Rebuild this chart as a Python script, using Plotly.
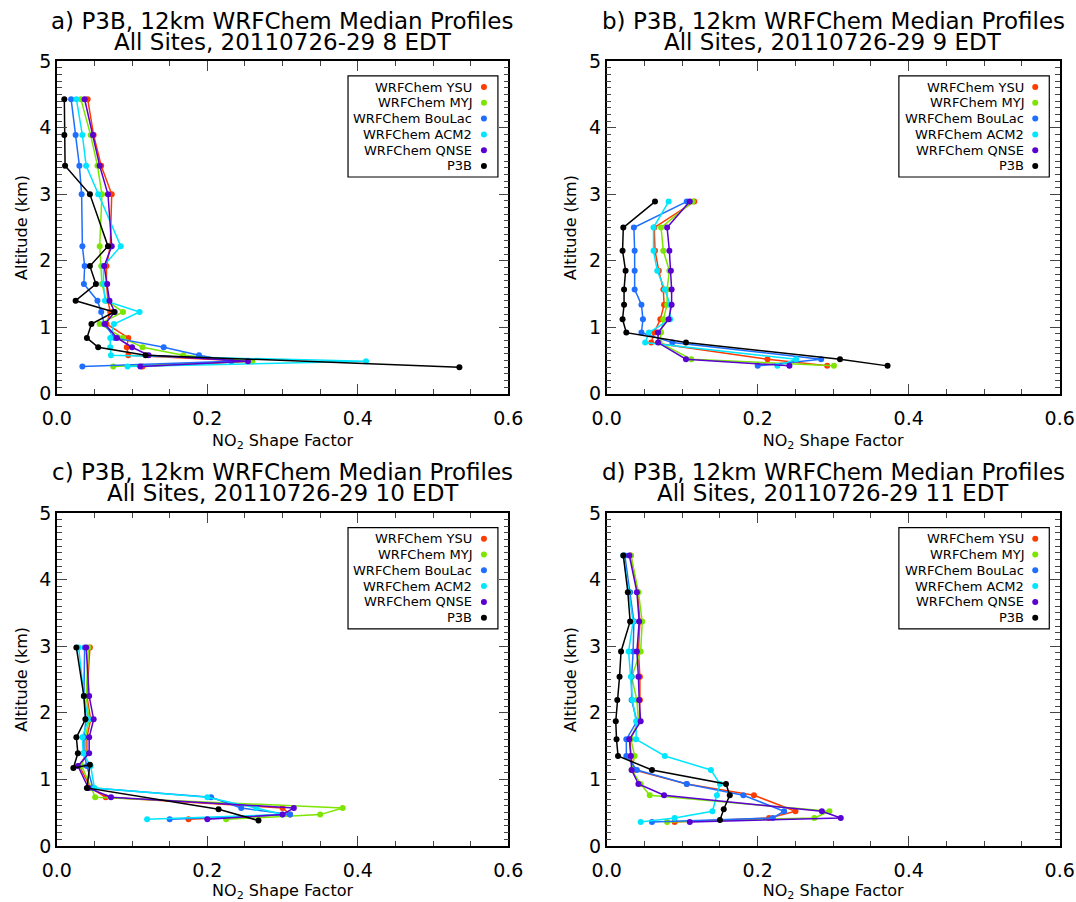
import plotly.graph_objects as go

# ---------------- data ----------------
SERIES = ["WRFChem YSU", "WRFChem MYJ", "WRFChem BouLac", "WRFChem ACM2", "WRFChem QNSE", "P3B"]
COLORS = ["#FF3C00", "#7CE600", "#1E6EFF", "#00E6FF", "#5A00D2", "#000000"]

TITLE1 = "P3B, 12km WRFChem Median Profiles"
HOURS = ["8", "9", "10", "11"]
LETTERS = ["a", "b", "c", "d"]

# Panel a (8 EDT)
a_alt = [4.43, 3.89, 3.43, 3.00, 2.22, 1.92, 1.65, 1.40, 1.23, 1.05, 0.84, 0.70, 0.58, 0.49, 0.41]
a_ysu = [0.041, 0.049, 0.059, 0.073, 0.071, 0.066, 0.066, 0.068, 0.071, 0.066, 0.095, 0.093, 0.095, 0.257, 0.114]
a_myj = [0.032, 0.045, 0.054, 0.060, 0.057, 0.059, 0.060, 0.066, 0.088, 0.057, 0.088, 0.114, 0.168, 0.260, 0.075]
a_boulac = [0.019, 0.025, 0.030, 0.033, 0.034, 0.037, 0.036, 0.054, 0.059, 0.063, 0.077, 0.142, 0.189, 0.232, 0.034]
a_acm2 = [0.026, 0.034, 0.039, 0.055, 0.085, 0.062, 0.062, 0.064, 0.110, 0.076, 0.071, 0.071, 0.072, 0.411, 0.094]
a_qnse = [0.037, 0.048, 0.057, 0.068, 0.073, 0.063, 0.067, 0.070, 0.077, 0.064, 0.080, 0.100, 0.122, 0.254, 0.111]
a_p3b_alt = [4.43, 3.89, 3.43, 3.00, 2.22, 1.92, 1.65, 1.40, 1.23, 1.05, 0.84, 0.70, 0.58, 0.40]
a_p3b = [0.010, 0.010, 0.011, 0.044, 0.068, 0.044, 0.052, 0.025, 0.076, 0.046, 0.040, 0.055, 0.118, 0.535]

# Panel b (9 EDT)
b_alt = [2.89, 2.50, 2.15, 1.85, 1.57, 1.34, 1.12, 0.92, 0.77, 0.52, 0.42]
b_ysu = [0.116, 0.063, 0.064, 0.069, 0.075, 0.076, 0.071, 0.063, 0.059, 0.213, 0.292]
b_myj = [0.114, 0.072, 0.075, 0.083, 0.080, 0.080, 0.075, 0.072, 0.070, 0.112, 0.301]
b_boulac = [0.106, 0.036, 0.037, 0.037, 0.037, 0.046, 0.048, 0.046, 0.087, 0.284, 0.200]
b_acm2 = [0.082, 0.062, 0.062, 0.067, 0.077, 0.084, 0.084, 0.056, 0.051, 0.251, 0.226]
b_qnse = [0.110, 0.080, 0.083, 0.085, 0.086, 0.086, 0.082, 0.068, 0.068, 0.105, 0.242]
b_p3b_alt = [2.89, 2.50, 2.15, 1.85, 1.57, 1.34, 1.12, 0.92, 0.77, 0.52, 0.42]
b_p3b = [0.064, 0.022, 0.021, 0.025, 0.023, 0.023, 0.021, 0.026, 0.105, 0.309, 0.372]

# Panel c (10 EDT)
c_alt = [2.98, 2.25, 1.90, 1.63, 1.39, 1.20, 0.87, 0.73, 0.57, 0.47, 0.40]
c_ysu = [0.044, 0.040, 0.045, 0.040, 0.040, 0.030, 0.045, 0.065, 0.300, 0.310, 0.175]
c_myj = [0.042, 0.039, 0.043, 0.038, 0.038, 0.033, 0.046, 0.051, 0.380, 0.350, 0.225]
c_boulac = [0.037, 0.036, 0.039, 0.036, 0.036, 0.040, 0.048, 0.205, 0.245, 0.310, 0.150]
c_acm2 = [0.029, 0.036, 0.042, 0.034, 0.035, 0.045, 0.050, 0.200, 0.265, 0.300, 0.120]
c_qnse = [0.039, 0.043, 0.049, 0.043, 0.043, 0.028, 0.042, 0.072, 0.315, 0.300, 0.200]
c_p3b_alt = [2.98, 2.25, 1.90, 1.63, 1.39, 1.17, 1.22, 0.87, 0.55, 0.38]
c_p3b = [0.026, 0.036, 0.038, 0.026, 0.028, 0.022, 0.044, 0.040, 0.215, 0.268]

# Panel d (11 EDT)
d_alt = [4.36, 3.81, 3.37, 2.92, 2.54, 2.19, 1.87, 1.60, 1.35, 1.14, 0.93, 0.76, 0.52, 0.42, 0.36]
d_ysu = [0.032, 0.041, 0.044, 0.042, 0.044, 0.044, 0.043, 0.031, 0.032, 0.036, 0.106, 0.195, 0.250, 0.215, 0.090]
d_myj = [0.032, 0.042, 0.047, 0.045, 0.033, 0.040, 0.042, 0.032, 0.037, 0.033, 0.045, 0.057, 0.295, 0.275, 0.080]
d_boulac = [0.024, 0.031, 0.036, 0.035, 0.033, 0.033, 0.040, 0.026, 0.026, 0.040, 0.106, 0.181, 0.235, 0.220, 0.060]
d_acm2 = [0.022, 0.029, 0.035, 0.029, 0.032, 0.034, 0.039, 0.039, 0.077, 0.138, 0.150, 0.146, 0.140, 0.090, 0.045]
d_qnse = [0.030, 0.040, 0.043, 0.040, 0.042, 0.043, 0.045, 0.030, 0.032, 0.033, 0.042, 0.076, 0.285, 0.310, 0.110]
d_p3b_alt = [4.36, 3.81, 3.37, 2.92, 2.54, 2.19, 1.87, 1.60, 1.35, 1.14, 0.93, 0.76, 0.55, 0.39]
d_p3b = [0.022, 0.028, 0.031, 0.019, 0.017, 0.014, 0.012, 0.013, 0.015, 0.060, 0.158, 0.163, 0.155, 0.150]

PANELS = [
    dict(models=[a_ysu, a_myj, a_boulac, a_acm2, a_qnse], alt=a_alt, p3b=a_p3b, p3b_alt=a_p3b_alt),
    dict(models=[b_ysu, b_myj, b_boulac, b_acm2, b_qnse], alt=b_alt, p3b=b_p3b, p3b_alt=b_p3b_alt),
    dict(models=[c_ysu, c_myj, c_boulac, c_acm2, c_qnse], alt=c_alt, p3b=c_p3b, p3b_alt=c_p3b_alt),
    dict(models=[d_ysu, d_myj, d_boulac, d_acm2, d_qnse], alt=d_alt, p3b=d_p3b, p3b_alt=d_p3b_alt),
]

# ---------------- layout geometry (pixels) ----------------
W, H = 1076, 902
X_LEFT = [56.8, 606.7]
X_RIGHT = [508.3, 1059.7]
Y_TOP = [61.3, 512.9]
Y_BOT = [393.8, 845.9]

FONT = "DejaVu Sans"

fig = go.Figure()
layout = dict(
    width=W, height=H, margin=dict(l=0, r=0, t=0, b=0, autoexpand=False),
    paper_bgcolor="white", plot_bgcolor="white", showlegend=False,
    font=dict(family=FONT, color="black"),
)
annotations = []
shapes = []

for i, p in enumerate(PANELS):
    col, row = i % 2, i // 2
    sfx = "" if i == 0 else str(i + 1)
    xa, ya = "x" + sfx, "y" + sfx
    xd = [X_LEFT[col] / W, X_RIGHT[col] / W]
    yd = [1 - Y_BOT[row] / H, 1 - Y_TOP[row] / H]
    layout["xaxis" + sfx] = dict(
        domain=xd, anchor=ya, range=[0, 0.6], tick0=0, dtick=0.2, tickformat=".1f",
        automargin=False,
        ticks="inside", ticklen=10, tickwidth=1.3, showline=True, linewidth=1.5, linecolor="black",
        mirror="ticks", showgrid=False, zeroline=False,
        minor=dict(dtick=0.05, tick0=0, ticks="inside", ticklen=5, tickwidth=1.2, showgrid=False),
        tickfont=dict(size=19, family=FONT), ticklabelstandoff=7,
        title=dict(text="NO<sub>2</sub> Shape Factor", font=dict(size=16, family=FONT), standoff=6),
    )
    layout["yaxis" + sfx] = dict(
        domain=yd, anchor=xa, range=[0, 5], tick0=0, dtick=1,
        automargin=False,
        ticks="inside", ticklen=10, tickwidth=1.3, showline=True, linewidth=1.5, linecolor="black",
        mirror="ticks", showgrid=False, zeroline=False,
        minor=dict(dtick=0.1, tick0=0, ticks="inside", ticklen=5, tickwidth=1.2, showgrid=False),
        tickfont=dict(size=19, family=FONT), ticklabelstandoff=0,
        title=dict(text="Altitude (km)", font=dict(size=16, family=FONT), standoff=8),
    )
    for s in range(5):
        fig.add_trace(go.Scatter(
            x=p["models"][s], y=p["alt"], mode="lines+markers", name=SERIES[s],
            line=dict(color=COLORS[s], width=1.5), marker=dict(color=COLORS[s], size=6),
            xaxis=xa, yaxis=ya))
    fig.add_trace(go.Scatter(
        x=p["p3b"], y=p["p3b_alt"], mode="lines+markers", name=SERIES[5],
        line=dict(color=COLORS[5], width=1.5), marker=dict(color=COLORS[5], size=6),
        xaxis=xa, yaxis=ya))

    # titles
    cx = (X_LEFT[col] + X_RIGHT[col]) / 2 / W
    annotations.append(dict(text=f"{LETTERS[i]}) {TITLE1}", xref="paper", yref="paper",
                            x=cx, y=1 - (Y_TOP[row] - 40.5) / H, xanchor="center", yanchor="middle",
                            showarrow=False, font=dict(size=23, family=FONT)))
    annotations.append(dict(text=f"All Sites, 20110726-29 {HOURS[i]} EDT", xref="paper", yref="paper",
                            x=cx, y=1 - (Y_TOP[row] - 19.5) / H, xanchor="center", yanchor="middle",
                            showarrow=False, font=dict(size=23, family=FONT)))

    # legend box
    xdom, ydom = xa + " domain", ya + " domain"
    shapes.append(dict(type="rect", xref=xdom, yref=ydom, x0=0.645, x1=0.977, y0=0.652, y1=0.956,
                       line=dict(color="black", width=1.2), fillcolor="white"))
    for s in range(6):
        yy = 0.9227 - s * 0.0475
        annotations.append(dict(text=SERIES[s], xref=xdom, yref=ydom, x=0.925, y=yy,
                                xanchor="right", yanchor="middle", showarrow=False,
                                font=dict(size=13, family=FONT)))
        shapes.append(dict(type="circle", xref=xdom, yref=ydom, xsizemode="pixel", ysizemode="pixel",
                           xanchor=0.946, yanchor=yy, x0=-3, x1=3, y0=-3, y1=3,
                           fillcolor=COLORS[s], line=dict(color=COLORS[s], width=0)))

layout["annotations"] = annotations
layout["shapes"] = shapes
fig.update_layout(**layout)
fig.write_html("out.html", config={"displayModeBar": False},
               post_script="document.body.style.margin='0';document.body.style.overflow='hidden';")
